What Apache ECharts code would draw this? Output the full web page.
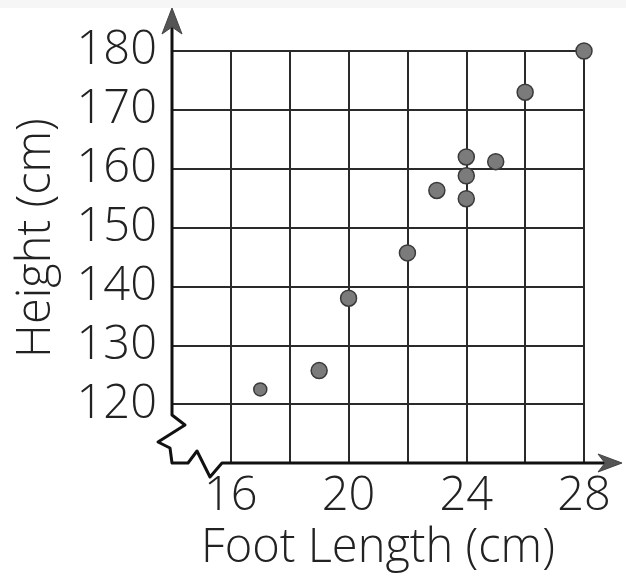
<!DOCTYPE html>
<html>
<head>
<meta charset="utf-8">
<script src="https://cdn.jsdelivr.net/npm/echarts@6/dist/echarts.min.js"></script>
<style>
  html, body { margin: 0; background: #fff; }
  #chart { width: 626px; height: 582px; }
</style>
</head>
<body>
<div id="chart"></div>
<script>
// foot length (cm) vs height (cm)
const footLength = [17, 19, 20, 22, 23, 24, 24, 24, 25, 26, 28];
const heightCm = [122.5, 125.7, 138, 145.7, 156.3, 162, 158.8, 154.9, 161.2, 173, 180];
const xShownTicks = [16, 20, 24, 28];
const yShownTicks = [120, 130, 140, 150, 160, 170, 180];

const points = footLength.map((x, i) => [x, heightCm[i]]);

const font = "'Open Sans', sans-serif";
const ink = "#222";
const textSize = 47;

const chart = echarts.init(document.getElementById("chart"), null, {
  renderer: "canvas",
});

const option = {
  animation: false,
  backgroundColor: "#fff",
  grid: { left: 172, right: 42, top: 51, bottom: 119, outerBoundsMode: "none", containLabel: false },
  xAxis: {
    type: "value",
    min: 14,
    max: 28,
    interval: 2,
    name: "Foot Length (cm)",
    nameLocation: "middle",
    nameGap: 58,
    nameTextStyle: { fontFamily: font, fontSize: textSize, fontWeight: 300, color: ink },
    axisLine: { show: false },
    axisTick: { show: false },
    axisLabel: {
      margin: 10,
      fontFamily: font,
      fontSize: textSize,
      fontWeight: 300,
      color: ink,
      formatter: (v) => (xShownTicks.includes(v) ? String(v) : ""),
    },
    splitLine: {
      show: true,
      showMinLine: false,
      lineStyle: { color: "#2a2a2a", width: 2, type: "solid" },
    },
  },
  yAxis: {
    type: "value",
    min: 110,
    max: 180,
    interval: 10,
    name: "Height (cm)",
    nameLocation: "middle",
    nameGap: 112,
    nameTextStyle: {
      fontFamily: font,
      fontSize: textSize,
      fontWeight: 300,
      color: ink,
      padding: [0, 0, 0, 38],
    },
    axisLine: { show: false },
    axisTick: { show: false },
    axisLabel: {
      margin: 15,
      fontFamily: font,
      fontSize: textSize,
      fontWeight: 300,
      color: ink,
      formatter: (v) => (yShownTicks.includes(v) ? String(v) : ""),
    },
    splitLine: {
      show: true,
      showMinLine: false,
      lineStyle: { color: "#2a2a2a", width: 2, type: "solid" },
    },
  },
  series: [
    {
      type: "scatter",
      data: points,
      clip: false,
      z: 5,
      symbol: "circle",
      symbolSize: (v, p) => (p.dataIndex === 0 ? 13 : 16),
      itemStyle: { color: "#7b7b7b", borderColor: "#3a3a3a", borderWidth: 1.5, opacity: 1 },
    },
  ],
};
chart.setOption(option);

// axes with arrows and the break zigzags, placed from the axis scales
const origin = chart.convertToPixel({ gridIndex: 0 }, [14, 110]);
const topLeft = chart.convertToPixel({ gridIndex: 0 }, [14, 180]);
const bottomRight = chart.convertToPixel({ gridIndex: 0 }, [28, 110]);
const ox = origin[0], oy = origin[1];
const yTip = topLeft[1] - 43;
const xTip = bottomRight[0] + 38;
const axisStyle = { stroke: "#111", lineWidth: 3, lineJoin: "round", fill: null };
const arrowStyle = { fill: "#555", stroke: "#444", lineWidth: 1 };

chart.setOption({
  graphic: [
    { type: "rect", shape: { x: 0, y: 0, width: 626, height: 8 }, style: { fill: "#f6f6f6" }, z: 0 },
    {
      type: "polyline",
      z: 10,
      shape: {
        points: [
          [ox, yTip + 4],
          [ox, oy - 48],
          [ox + 13, oy - 38],
          [ox - 14, oy - 21],
          [ox - 2, oy - 15],
          [ox, oy],
          [ox + 16, oy],
          [ox + 25, oy - 12],
          [ox + 38, oy + 14],
          [ox + 50, oy],
          [xTip - 4, oy],
        ],
      },
      style: axisStyle,
    },
    {
      type: "polygon",
      z: 11,
      shape: {
        points: [
          [ox, yTip],
          [ox + 10, yTip + 26],
          [ox, yTip + 19],
          [ox - 10, yTip + 26],
        ],
      },
      style: arrowStyle,
    },
    {
      type: "polygon",
      z: 11,
      shape: {
        points: [
          [xTip, oy],
          [xTip - 24, oy + 9],
          [xTip - 17, oy],
          [xTip - 24, oy - 9],
        ],
      },
      style: arrowStyle,
    },
  ],
});
</script>
</body>
</html>
